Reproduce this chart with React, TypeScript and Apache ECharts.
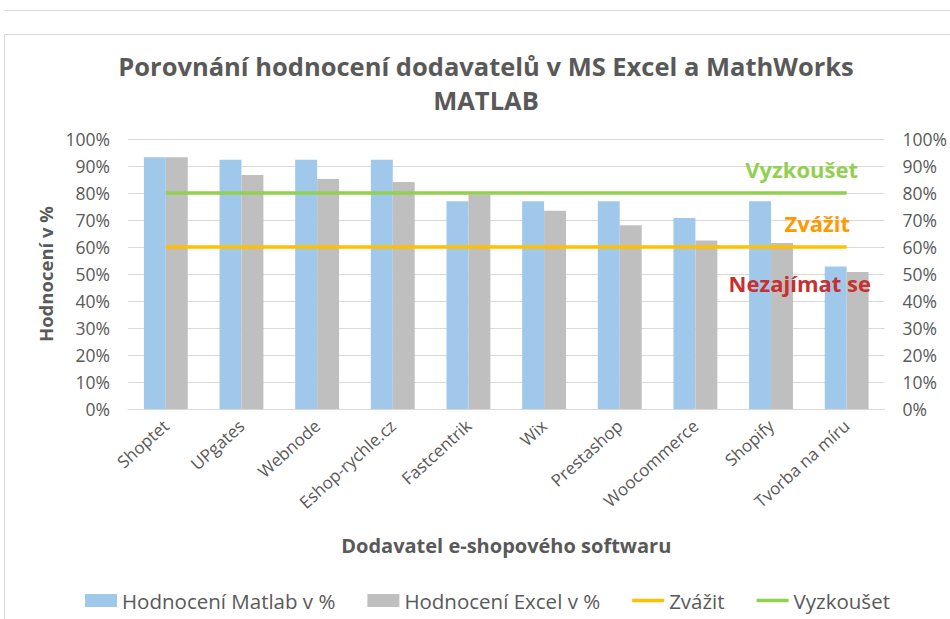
import React, { useEffect, useRef } from "react";
import * as echarts from "echarts";

const categories = [
  "Shoptet",
  "UPgates",
  "Webnode",
  "Eshop-rychle.cz",
  "Fastcentrik",
  "Wix",
  "Prestashop",
  "Woocommerce",
  "Shopify",
  "Tvorba na míru",
];
const matlabValues = [93.2, 92.3, 92.3, 92.3, 76.9, 76.9, 76.9, 70.7, 76.9, 52.8];
const excelValues = [93.2, 86.7, 85.2, 84.1, 79.4, 73.4, 68.1, 62.4, 61.5, 50.7];
const zvazitValues = categories.map(() => 60);
const vyzkousetValues = categories.map(() => 80);

const FONT = "'Open Sans', 'Noto Sans', sans-serif";
const GREY = "#595959";
const LINE_ICON = "path://M0,0H32V3.5H0Z";

export default function App() {
  const ref = useRef<HTMLDivElement>(null);
  useEffect(() => {
    if (!ref.current) return;
    const chart = echarts.init(ref.current, undefined, { renderer: "svg" });
    chart.setOption({
      animation: false,
      backgroundColor: "#ffffff",
      textStyle: { fontFamily: FONT },
      title: {
        text: "Porovnání hodnocení dodavatelů v MS Excel a MathWorks\nMATLAB",
        left: 486,
        top: 49,
        padding: 0,
        textAlign: "center",
        textStyle: {
          fontFamily: FONT,
          fontSize: 25.5,
          fontWeight: "bold",
          color: GREY,
          lineHeight: 34,
        },
      },
      grid: { left: 128, right: 63, top: 139, bottom: 210 },
      legend: {
        left: 85,
        top: 590,
        padding: 0,
        itemWidth: 32,
        itemHeight: 13,
        itemGap: 32,
        textStyle: { fontFamily: FONT, fontSize: 20.5, color: GREY },
        data: [
          { name: "Hodnocení Matlab v %", icon: "rect" },
          { name: "Hodnocení Excel v %", icon: "rect" },
          { name: "Zvážit", icon: LINE_ICON },
          { name: "Vyzkoušet", icon: LINE_ICON },
        ],
      },
      xAxis: {
        type: "category",
        data: categories,
        name: "Dodavatel e-shopového softwaru",
        nameLocation: "middle",
        nameGap: 126,
        nameTextStyle: { fontFamily: FONT, fontSize: 20, fontWeight: "bold", color: GREY },
        axisLine: { lineStyle: { color: "#D9D9D9", width: 1 } },
        axisTick: { show: false },
        axisLabel: {
          rotate: 42,
          interval: 0,
          margin: 14,
          fontFamily: FONT,
          fontSize: 17,
          color: GREY,
        },
      },
      yAxis: [
        {
          type: "value",
          min: 0,
          max: 100,
          interval: 10,
          name: "Hodnocení v %",
          nameLocation: "middle",
          nameRotate: 90,
          nameGap: 72,
          nameTextStyle: { fontFamily: FONT, fontSize: 18.5, fontWeight: "bold", color: GREY },
          axisLine: { show: false },
          axisTick: { show: false },
          splitLine: { lineStyle: { color: "#D9D9D9", width: 1 } },
          axisLabel: {
            formatter: "{value}%",
            margin: 18,
            fontFamily: FONT,
            fontSize: 17.5,
            color: GREY,
          },
        },
        {
          type: "value",
          min: 0,
          max: 100,
          interval: 10,
          position: "right",
          axisLine: { show: false },
          axisTick: { show: false },
          splitLine: { show: false },
          axisLabel: {
            formatter: "{value}%",
            margin: 18,
            fontFamily: FONT,
            fontSize: 17.5,
            color: GREY,
          },
        },
      ],
      series: [
        {
          name: "Hodnocení Matlab v %",
          type: "bar",
          data: matlabValues,
          itemStyle: { color: "#9FC8EA" },
          barGap: "0%",
          barCategoryGap: "42%",
        },
        {
          name: "Hodnocení Excel v %",
          type: "bar",
          data: excelValues,
          itemStyle: { color: "#BFBFBF" },
          barGap: "0%",
          barCategoryGap: "42%",
        },
        {
          name: "Zvážit",
          type: "line",
          data: zvazitValues,
          symbol: "none",
          lineStyle: { color: "#FFC000", width: 3.5 },
          itemStyle: { color: "#FFC000" },
        },
        {
          name: "Vyzkoušet",
          type: "line",
          data: vyzkousetValues,
          symbol: "none",
          lineStyle: { color: "#92D050", width: 3.5 },
          itemStyle: { color: "#92D050" },
        },
      ],
      graphic: [
        {
          type: "line",
          shape: { x1: 4, y1: 10.5, x2: 950, y2: 10.5 },
          style: { stroke: "#D9D9D9", lineWidth: 1 },
          silent: true,
        },
        {
          type: "polyline",
          shape: { points: [[4.5, 619], [4.5, 34.5], [950, 34.5]] },
          style: { stroke: "#D9D9D9", lineWidth: 1, fill: "none" },
          silent: true,
        },
        {
          type: "text",
          x: 858,
          y: 169,
          z: 100,
          style: {
            text: "Vyzkoušet",
            align: "right",
            verticalAlign: "middle",
            fontFamily: FONT,
            fontSize: 22,
            fontWeight: "bold",
            fill: "#92D050",
          },
        },
        {
          type: "text",
          x: 850,
          y: 223,
          z: 100,
          style: {
            text: "Zvážit",
            align: "right",
            verticalAlign: "middle",
            fontFamily: FONT,
            fontSize: 22,
            fontWeight: "bold",
            fill: "#FF9900",
          },
        },
        {
          type: "text",
          x: 871,
          y: 283,
          z: 100,
          style: {
            text: "Nezajímat se",
            align: "right",
            verticalAlign: "middle",
            fontFamily: FONT,
            fontSize: 22,
            fontWeight: "bold",
            fill: "#C8302F",
          },
        },
      ],
    });
    return () => chart.dispose();
  }, []);
  return (
    <div
      ref={ref}
      style={{ position: "absolute", left: 0, top: 0, width: 950, height: 619 }}
    />
  );
}
